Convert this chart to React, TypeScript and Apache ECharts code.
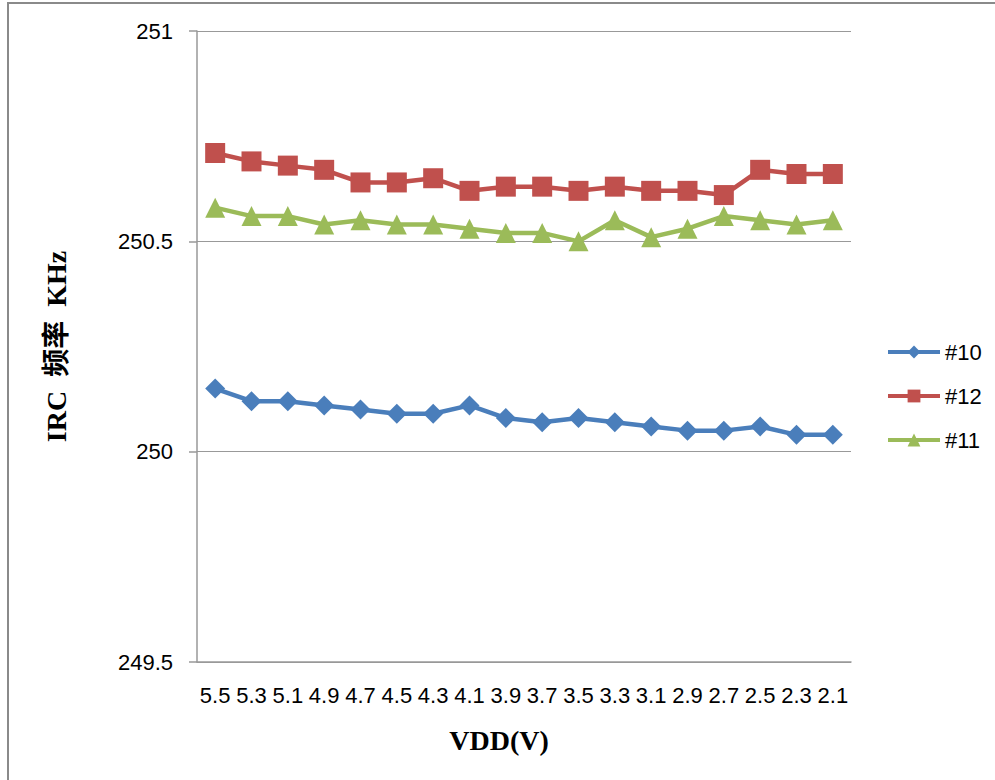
import React, { useEffect, useRef } from "react";
import * as echarts from "echarts";

const categories = ["5.5","5.3","5.1","4.9","4.7","4.5","4.3","4.1","3.9","3.7","3.5","3.3","3.1","2.9","2.7","2.5","2.3","2.1"];
const s10 = [250.15,250.12,250.12,250.11,250.10,250.09,250.09,250.11,250.08,250.07,250.08,250.07,250.06,250.05,250.05,250.06,250.04,250.04];
const s12 = [250.71,250.69,250.68,250.67,250.64,250.64,250.65,250.62,250.63,250.63,250.62,250.63,250.62,250.62,250.61,250.67,250.66,250.66];
const s11 = [250.58,250.56,250.56,250.54,250.55,250.54,250.54,250.53,250.52,250.52,250.50,250.55,250.51,250.53,250.56,250.55,250.54,250.55];

export default function App() {
  const ref = useRef<HTMLDivElement>(null);
  useEffect(() => {
    document.body.style.margin = "0";
    const chart = echarts.init(ref.current!, null, { renderer: "svg" });
    const mk = (name: string, data: number[], color: string, symbol: string, size: number) => ({
      name, type: "line", data, symbol, symbolSize: size,
      lineStyle: { color, width: 4.5 }, itemStyle: { color },
    });
    chart.setOption({
      animation: false,
      backgroundColor: "#fff",
      graphic: [
        { type: "rect", shape: { x: 8, y: 3, width: 1000, height: 800 }, style: { fill: "none", stroke: "#8a8a8a", lineWidth: 2 } },
      ],
      grid: { left: 197, right: 144, top: 31, bottom: 118 },
      legend: {
        orient: "vertical", left: 881, top: 336, itemWidth: 52, itemHeight: 16, itemGap: 22,
        lineStyle: { width: 4 },
        textStyle: { fontFamily: "Liberation Sans", fontSize: 22, color: "#000" },
        data: ["#10", "#12", "#11"],
      },
      xAxis: {
        type: "category", data: categories, boundaryGap: true,
        name: "VDD(V)", nameLocation: "middle", nameGap: 64,
        nameTextStyle: { fontFamily: "Liberation Serif", fontWeight: "bold", fontSize: 28, color: "#000", padding: [0, 50, 0, 0] },
        axisLine: { lineStyle: { color: "#999", width: 1.5 } },
        axisTick: { show: false },
        axisLabel: { fontFamily: "Liberation Sans", fontSize: 22, color: "#000", margin: 22, interval: 0 },
      },
      yAxis: {
        type: "value", min: 249.5, max: 251, interval: 0.5,
        name: "IRC  频率  KHz", nameLocation: "middle", nameGap: 127,
        nameTextStyle: { fontFamily: "Liberation Serif, Noto Sans CJK SC", fontWeight: "bold", fontSize: 28, color: "#000" },
        axisLine: { show: true, lineStyle: { color: "#999", width: 1.5 } },
        axisTick: { show: true, length: 8, lineStyle: { color: "#999", width: 1.5 } },
        splitLine: { lineStyle: { color: "#999", width: 1.2 } },
        axisLabel: { fontFamily: "Liberation Sans", fontSize: 22, color: "#000", margin: 24 },
      },
      series: [
        mk("#10", s10, "#4a7ebb", "diamond", 20),
        mk("#12", s12, "#c0504d", "rect", 20),
        mk("#11", s11, "#9bbb59", "triangle", 20),
      ],
    });
    return () => chart.dispose();
  }, []);
  return <div ref={ref} style={{ width: 995, height: 780 }} />;
}
